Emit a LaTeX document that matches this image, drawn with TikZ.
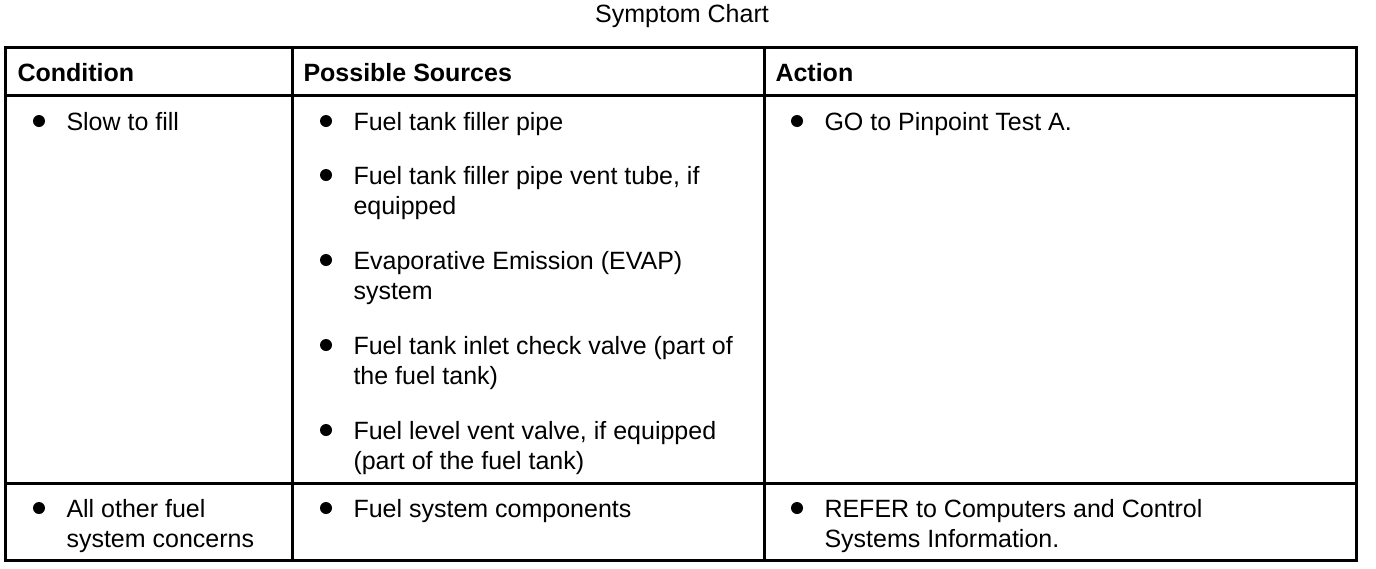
\documentclass[tikz,border=0pt]{standalone}
\usepackage{fontspec}
\setmainfont{Liberation Sans}
\usetikzlibrary{positioning}

\begin{document}
\begin{tikzpicture}[x=1pt, y=-1pt, line width=3pt]
        \tikzstyle{every node}=[font=\fontsize{25}{30}\selectfont, inner sep=0pt, align=left, anchor=base west]
        \tikzstyle{head}=[font=\fontsize{25}{30}\selectfont\bfseries]
        \tikzstyle{dot}=[circle, fill, minimum size=12pt, inner sep=0pt, anchor=center]
        \useasboundingbox (0,0) rectangle (1376,568);
        \node [anchor=base] (title) at (682,22) {Symptom Chart};
        \draw (5,47) rectangle (1356,560);
        \draw (5,95) -- (1356,95) (5,483) -- (1356,483);
        \draw (292,47) -- (292,560) (764,47) -- (764,560);
        \node [head] (cond) at (16,81) {Condition};
        \node [head] (src) at (302,81) {Possible Sources};
        \node [head] (act) at (774,81) {Action};
        % multi-line nodes sit on the baseline of their last line
        \node [dot] (b1) at (39,121) {};
        \node (c1) at (65,130) {Slow to fill};
        \node [dot] (b2) at (326,121) {};
        \node (s1) at (352,130) {Fuel tank filler pipe};
        \node [dot] (b3) at (326,175) {};
        \node (s2) at (352,214) {Fuel tank filler pipe vent tube, if\\equipped};
        \node [dot] (b4) at (326,260) {};
        \node (s3) at (352,299) {Evaporative Emission (EVAP)\\system};
        \node [dot] (b5) at (326,345) {};
        \node (s4) at (352,384) {Fuel tank inlet check valve (part of\\the fuel tank)};
        \node [dot] (b6) at (326,430) {};
        \node (s5) at (352,469) {Fuel level vent valve, if equipped\\(part of the fuel tank)};
        \node [dot] (b7) at (797,121) {};
        \node (a1) at (823,130) {GO to Pinpoint Test A.};
        \node [dot] (b8) at (39,508) {};
        \node (c2) at (65,547) {All other fuel\\system concerns};
        \node [dot] (b9) at (326,508) {};
        \node (s6) at (352,517) {Fuel system components};
        \node [dot] (b10) at (797,508) {};
        \node (a2) at (823,547) {REFER to Computers and Control\\Systems Information.};
\end{tikzpicture}
\end{document}
